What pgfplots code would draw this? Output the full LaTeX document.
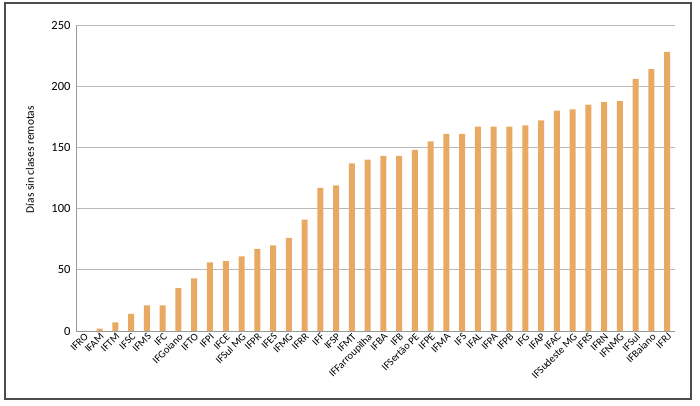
\documentclass[border=0pt]{standalone}
\usepackage{pgfplots}
\pgfplotsset{compat=1.18}
\usepackage{fontspec}
\setmainfont{Carlito}
\definecolor{barc}{HTML}{E8A963}
\begin{document}
\begin{tikzpicture}[x=1pt,y=1pt]
\path (0,0) rectangle (700,406);
\draw[line width=1.5pt, black!70] (5,7) rectangle (691,403);
\begin{axis}[
  at={(76pt,75pt)}, anchor=south west,
  scale only axis, width=599pt, height=306pt,
  ymin=0, ymax=250, ytick={0,50,100,150,200,250},
  xmin=-0.5, xmax=37.5,
  xtick={0,...,37},
  xticklabels={IFRO,IFAM,IFTM,IFSC,IFMS,IFC,IFGoiano,IFTO,IFPI,IFCE,IFSul MG,IFPR,IFES,IFMG,IFRR,IFF,IFSP,IFMT,IFFarroupilha,IFBA,IFB,IFSertão PE,IFPE,IFMA,IFS,IFAL,IFPA,IFPB,IFG,IFAP,IFAC,IFSudeste MG,IFRS,IFRN,IFNMG,IFSul,IFBaiano,IFRJ},
  xticklabel style={rotate=45, anchor=north east, inner sep=1pt, font=\fontsize{10.5}{12}\selectfont},
  yticklabel style={font=\fontsize{12.5}{13}\selectfont, xshift=-2pt},
  /pgf/number format/assume math mode=true,
  major tick length=0pt,
  axis x line*=bottom, axis y line*=left,
  axis line style={gray!80, line width=0.8pt},
  ymajorgrids, grid style={gray!55, line width=0.8pt},
  ylabel={Días sin clases remotas},
  every axis y label/.style={at={(axis description cs:-0.077,0.56)}, rotate=90, anchor=center, font=\fontsize{11.5}{12}\selectfont},
  clip=false,
]
\addplot[ybar, bar width=6pt, fill=barc, draw=none] coordinates {
(0,0) (1,2) (2,7) (3,14) (4,21) (5,21) (6,35) (7,43) (8,56) (9,57)
(10,61) (11,67) (12,70) (13,76) (14,91) (15,117) (16,119) (17,137) (18,140) (19,143)
(20,143) (21,148) (22,155) (23,161) (24,161) (25,167) (26,167) (27,167) (28,168) (29,172)
(30,180) (31,181) (32,185) (33,187) (34,188) (35,206) (36,214) (37,228)
};
\end{axis}
\end{tikzpicture}
\end{document}
